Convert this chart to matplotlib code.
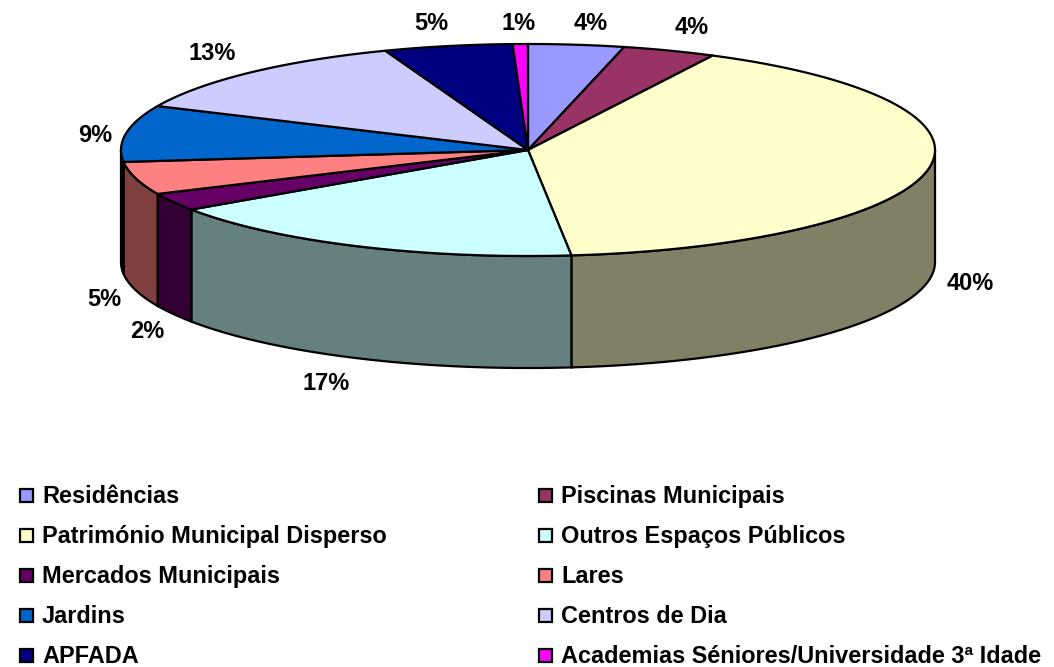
import matplotlib
matplotlib.use("Agg")
import matplotlib.pyplot as plt
import numpy as np
from matplotlib.patches import Polygon, Rectangle

W, H = 1054, 667

categories = [
    "Residências", "Piscinas Municipais",
    "Património Municipal Disperso", "Outros Espaços Públicos",
    "Mercados Municipais", "Lares",
    "Jardins", "Centros de Dia",
    "APFADA", "Academias Séniores/Universidade 3ª Idade",
]
# slice sizes, labels as printed on it
values = [3.8, 3.7, 40.8, 17.2, 2.7, 5.0, 8.6, 12.5, 5.1, 0.6]
labels = ["4%", "4%", "40%", "17%", "2%", "5%", "9%", "13%", "5%", "1%"]
colors = ["#9999FF", "#993366", "#FFFFCC", "#CCFFFF", "#660066",
          "#FF8080", "#0066CC", "#CCCCFF", "#000080", "#FF00FF"]
side_colors = ["#4D4D80", "#4D1A33", "#808066", "#668080", "#330033",
               "#804040", "#000000", "#666680", "#000040", "#800080"]
label_pos = [(591, 23), (692, 28), (970, 284), (326, 384), (147, 331),
             (104, 300), (95, 135), (212, 54), (431, 23), (519, 23)]

CX, CY, RX, RY, DEPTH = 528, 150, 407, 106, 112


def arc(a0, a1, dy=0):
    t = np.radians(np.arange(a0, a1, 0.5).tolist() + [a1])
    return np.column_stack([CX + RX * np.sin(t), CY + dy - RY * np.cos(t)])


fig = plt.figure(figsize=(W / 100, H / 100), dpi=100)
ax = fig.add_axes([0, 0, 1, 1])
ax.set_xlim(0, W)
ax.set_ylim(H, 0)
ax.axis("off")

font = dict(family=["Liberation Sans", "DejaVu Sans"], fontweight="bold", color="black")

edges = np.cumsum([0] + values) / sum(values) * 360

# rim first, only the front half of the ellipse shows
for i in range(len(values)):
    a0, a1 = max(edges[i], 90), min(edges[i + 1], 270)
    if a1 <= a0:
        continue
    top = arc(a0, a1)
    bottom = arc(a0, a1, DEPTH)[::-1]
    ax.add_patch(Polygon(np.vstack([top, bottom]), closed=True,
                         facecolor=side_colors[i], edgecolor="black", linewidth=1.6))

for i in range(len(values)):
    pts = np.vstack([[CX, CY], arc(edges[i], edges[i + 1])])
    ax.add_patch(Polygon(pts, closed=True, facecolor=colors[i],
                         edgecolor="black", linewidth=1.6))

for lab, (x, y) in zip(labels, label_pos):
    ax.text(x, y, lab, fontsize=17, ha="center", va="center", **font)

# legend, two columns filled row by row
row_base = [503, 543, 583, 623, 663]
col_x = [19.5, 538.5]
for i, name in enumerate(categories):
    x, y = col_x[i % 2], row_base[i // 2]
    ax.add_patch(Rectangle((x, y - 14), 13, 13, facecolor=colors[i],
                           edgecolor="black", linewidth=1.6))
    ax.text(x + 22.5, y, name, fontsize=16.9, ha="left", va="baseline", **font)

fig.savefig("out.png", dpi=100)
